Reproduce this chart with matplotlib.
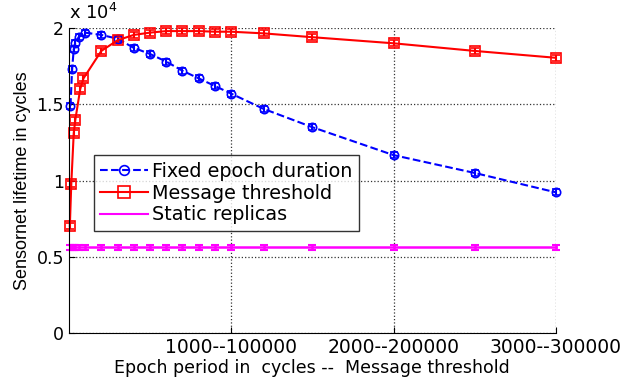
import matplotlib.pyplot as plt
from matplotlib.lines import Line2D
import numpy as np

plt.rcParams['font.family'] = ['DejaVu Sans']

# epoch period (cycles); message threshold = 100 * epoch
epoch_x = [10, 20, 30, 40, 60, 100, 200, 300, 400, 500, 600, 700, 800, 900,
           1000, 1200, 1500, 2000, 2500, 3000]
fixed_epoch = [1.49, 1.73, 1.86, 1.90, 1.94, 1.97, 1.955, 1.93, 1.87, 1.83,
               1.78, 1.72, 1.67, 1.62, 1.57, 1.47, 1.35, 1.167, 1.05, 0.923]

thresh_x = [6, 15, 30, 40, 70, 90, 200, 300, 400, 500, 600, 700, 800, 900,
            1000, 1200, 1500, 2000, 2500, 3000]
msg_thresh = [0.70, 0.98, 1.31, 1.40, 1.60, 1.67, 1.85, 1.92, 1.955, 1.97,
              1.98, 1.98, 1.98, 1.976, 1.976, 1.965, 1.94, 1.90, 1.85, 1.805]

static_x = epoch_x
static_rep = [0.563] * len(static_x)

labels = ['Fixed epoch duration', 'Message threshold', 'Static replicas']

scale = 1e4
err = 0.02  # small spread, in units of 1e4

fig = plt.figure(figsize=(6.26, 3.79), dpi=100)
ax = fig.add_axes([0.110, 0.121, 0.778, 0.805])

ax.errorbar(epoch_x, np.array(fixed_epoch) * scale, yerr=err * scale,
            color='blue', ls='--', lw=1.5, marker='o', ms=6, mfc='none',
            mew=1.2, capsize=3, clip_on=False)
ax.errorbar(thresh_x, np.array(msg_thresh) * scale, yerr=err * scale,
            color='red', ls='-', lw=1.5, marker='s', ms=7, mfc='none',
            mew=1.2, capsize=3, clip_on=False)
ax.errorbar(static_x, np.array(static_rep) * scale, yerr=0.015 * scale,
            color='magenta', ls='-', lw=1.8, capsize=3, elinewidth=1.8,
            capthick=1.5, clip_on=False)

ax.set_xlim(0, 3000)
ax.set_ylim(0, 2e4)
ax.set_xticks([1000, 2000, 3000])
ax.set_xticklabels(['1000--100000', '2000--200000', '3000--300000'], fontsize=13.5)
ax.set_yticks([0, 5000, 10000, 15000, 20000])
ax.set_yticklabels(['0', '0.5', '1', '1.5', '2'], fontsize=12.5)
ax.tick_params(direction='in', length=4)
ax.grid(True, ls=':', color='0.2', lw=0.9)
ax.spines['top'].set_visible(False)
ax.spines['right'].set_visible(False)

ax.text(0.0, 1.015, r'x 10$^4$', transform=ax.transAxes, fontsize=13,
        ha='left', va='bottom')

ax.set_xlabel('Epoch period in  cycles --  Message threshold', fontsize=12.5)
ax.xaxis.set_label_coords(0.5, -0.085)
ax.set_ylabel('Sensornet lifetime in cycles', fontsize=13,
              family='Liberation Sans')

handles = [
    Line2D([], [], color='blue', ls='--', lw=1.5, marker='o', ms=7,
           mfc='none', mew=1.2),
    Line2D([], [], color='red', ls='-', lw=1.5, marker='s', ms=8,
           mfc='none', mew=1.2),
    Line2D([], [], color='magenta', ls='-', lw=1.5),
]
leg = ax.legend(handles, labels, loc='upper left',
                bbox_to_anchor=(0.051, 0.584), fontsize=13.8,
                frameon=True, fancybox=False, edgecolor='black',
                borderpad=0.35, labelspacing=0.15, handlelength=2.5,
                handletextpad=0.2, borderaxespad=0)
leg.get_frame().set_linewidth(1.0)

fig.savefig('out.png', dpi=100)
